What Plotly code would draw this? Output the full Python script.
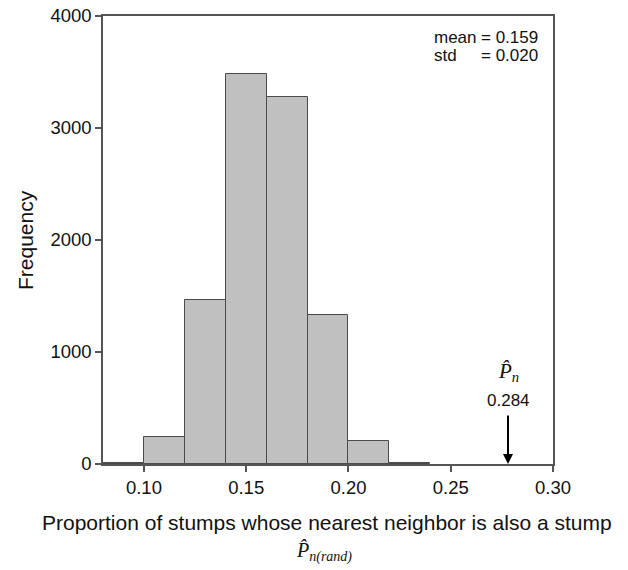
import plotly.graph_objects as go

# Histogram data (bin edges of width 0.02)
bin_left = [0.08, 0.10, 0.12, 0.14, 0.16, 0.18, 0.20, 0.22]
counts = [8, 239, 1462, 3480, 3275, 1334, 203, 12]
bin_width = 0.02

x_ticks = [0.10, 0.15, 0.20, 0.25, 0.30]
x_tick_labels = ["0.10", "0.15", "0.20", "0.25", "0.30"]
y_ticks = [0, 1000, 2000, 3000, 4000]

observed_label = "0.284"
observed_x = 0.278  # where the arrow is drawn in the picture

stats_names = ["mean", "std"]
stats_values = ["= 0.159", "= 0.020"]

centers = [b + bin_width / 2 for b in bin_left]

FONT = "Liberation Sans, Arial, sans-serif"
SERIF = "Liberation Serif, Times New Roman, serif"
AX = "#555555"

fig = go.Figure()
fig.add_trace(go.Bar(
    x=centers, y=counts, width=[bin_width] * len(centers),
    marker=dict(color="#c0c0c0", line=dict(color="#4a4a4a", width=1)),
    hoverinfo="x+y", showlegend=False,
))

fig.update_layout(
    width=628, height=570,
    margin=dict(l=103, r=75, t=16, b=106),
    paper_bgcolor="white", plot_bgcolor="white",
    font=dict(family=FONT, size=18, color="#111111"),
    bargap=0,
)
fig.update_xaxes(
    range=[0.08, 0.30], tickvals=x_ticks, ticktext=x_tick_labels,
    showline=True, linecolor=AX, linewidth=1.5, mirror=True,
    ticks="outside", ticklen=6, tickcolor=AX, tickwidth=1.5,
    showgrid=False, zeroline=False, automargin=False,
    tickfont=dict(size=18.5),
)
fig.update_yaxes(
    range=[0, 4000], tickvals=y_ticks,
    showline=True, linecolor=AX, linewidth=1.5, mirror=True,
    ticks="outside", ticklen=6, tickcolor=AX, tickwidth=1.5,
    showgrid=False, zeroline=False, automargin=False,
    tickfont=dict(size=18.5),
)

# axis titles
fig.add_annotation(
    text="Proportion of stumps whose nearest neighbor is also a stump",
    xref="paper", yref="paper", x=0.497, y=0, yanchor="middle", yshift=-58,
    showarrow=False, font=dict(size=21, family=FONT),
)
fig.add_annotation(
    text="<i>P̂</i><sub><i>n(rand)</i></sub>",
    xref="paper", yref="paper", x=0.492, y=0, yanchor="middle", yshift=-88,
    showarrow=False, font=dict(size=20, family=SERIF),
)
fig.add_annotation(
    text="Frequency", textangle=-90,
    xref="paper", yref="paper", x=0, y=0.5, xanchor="center", xshift=-78,
    showarrow=False, font=dict(size=21, family=FONT),
)

# stats box text (one annotation per line for tight spacing)
for i, (name, val) in enumerate(zip(stats_names, stats_values)):
    fig.add_annotation(
        text=name, xref="paper", yref="paper", x=0, y=1,
        xanchor="left", yanchor="middle", xshift=329, yshift=-21 - 18 * i,
        showarrow=False, font=dict(size=17, family=FONT),
    )
    fig.add_annotation(
        text=val, xref="paper", yref="paper", x=0, y=1,
        xanchor="left", yanchor="middle", xshift=376, yshift=-21 - 18 * i,
        showarrow=False, font=dict(size=17, family=FONT),
    )

# observed value arrow
fig.add_annotation(
    x=observed_x, y=0, xref="x", yref="y", ax=0, ay=-50,
    showarrow=True, arrowhead=2, arrowsize=1, arrowwidth=2, arrowcolor="#000000",
    text="",
)
fig.add_annotation(
    x=observed_x, y=0, xref="x", yref="y", yshift=64,
    text=observed_label, showarrow=False, font=dict(size=17, family=FONT),
)
fig.add_annotation(
    x=observed_x, y=0, xref="x", yref="y", yshift=92,
    text="<i>P̂</i><sub><i>n</i></sub>", showarrow=False,
    font=dict(size=21, family=SERIF),
)

fig.write_html("out.html")
